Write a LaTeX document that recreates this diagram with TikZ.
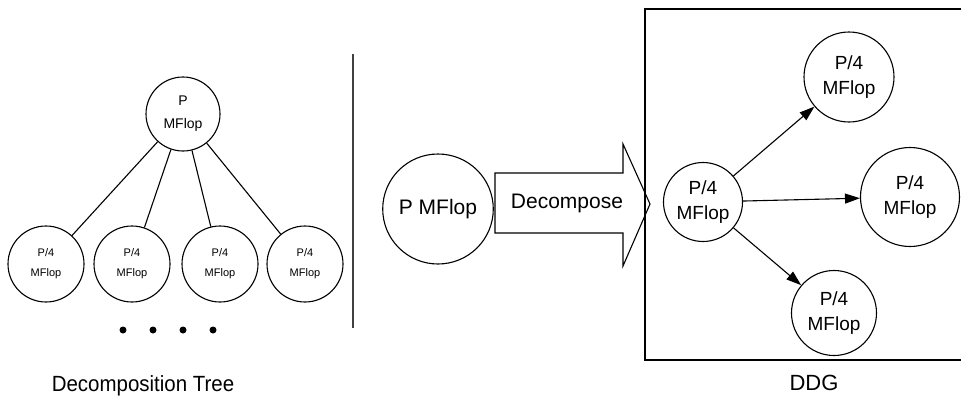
\documentclass[tikz,border=0pt]{standalone}
\usepackage{fontspec}
\setmainfont{Liberation Sans}
\usetikzlibrary{arrows.meta, shapes.geometric}
\tikzset{
  tnode/.style={draw, circle, line width=1.1pt, inner sep=0pt, align=center},
  ddgnode/.style={draw, circle, line width=1.1pt, inner sep=0pt, align=center, font=\fontsize{19}{25}\selectfont},
  ddgarrow/.style={line width=1.1pt, -{Triangle[length=15pt,width=10pt]}}
}
\begin{document}
\begin{tikzpicture}[x=1pt, y=-1pt]
  \useasboundingbox (0,0) rectangle (961,399);
  \clip (0,0) rectangle (961,399);

  % decomposition tree
  \node (root) at (183, 114) [tnode, minimum size=74pt, font=\fontsize{14}{23}\selectfont] {P\\MFlop};
  \node (c1) at (46, 264) [tnode, minimum size=76pt, font=\fontsize{11}{20}\selectfont] {P/4\\MFlop};
  \node (c2) at (132, 264) [tnode, minimum size=76pt, font=\fontsize{11}{20}\selectfont] {P/4\\MFlop};
  \node (c3) at (220, 264) [tnode, minimum size=76pt, font=\fontsize{11}{20}\selectfont] {P/4\\MFlop};
  \node (c4) at (305, 264) [tnode, minimum size=76pt, font=\fontsize{11}{20}\selectfont] {P/4\\MFlop};
  \foreach \c in {c1, c2, c3, c4}
    \draw[line width=1.1pt] (root) -- (\c);
  \foreach \x in {123, 153, 183, 213}
    \fill (\x, 330) circle (3.5pt);
  \node (treelbl) at (143, 386) [font=\fontsize{22}{26}\selectfont, xscale=0.93] {Decomposition Tree};

  \draw[line width=1.8pt, black!75] (353, 54) -- (353, 328);

  % decompose step
  \node (src) at (438, 209) [draw, ellipse, line width=1.1pt, inner sep=0pt, minimum width=104pt, minimum height=110pt, font=\fontsize{21}{25}\selectfont] {P MFlop};
  \draw[line width=1.1pt] (495, 173) -- (623, 173) -- (623, 144) -- (650, 204) -- (623, 266) -- (623, 233) -- (495, 233) -- cycle;
  \node (dec) at (567, 203) [font=\fontsize{21}{25}\selectfont] {Decompose};

  % DDG
  \draw[line width=1.8pt] (975, 9) -- (645, 9) -- (645, 360) -- (975, 360);
  \node (d0) at (703, 202) [ddgnode, minimum size=79pt] {P/4\\MFlop};
  \node (dn) at (849, 77) [ddgnode, minimum size=90pt] {P/4\\MFlop};
  \node (de) at (910, 197) [ddgnode, minimum size=99pt] {P/4\\MFlop};
  \node (ds) at (834, 313) [ddgnode, minimum size=85pt] {P/4\\MFlop};
  \draw[ddgarrow] (d0) -- (dn);
  \draw[ddgarrow] (d0) -- (de);
  \draw[ddgarrow] (d0) -- (ds);
  \node (ddglbl) at (814, 383) [font=\fontsize{22}{26}\selectfont] {DDG};
\end{tikzpicture}
\end{document}
